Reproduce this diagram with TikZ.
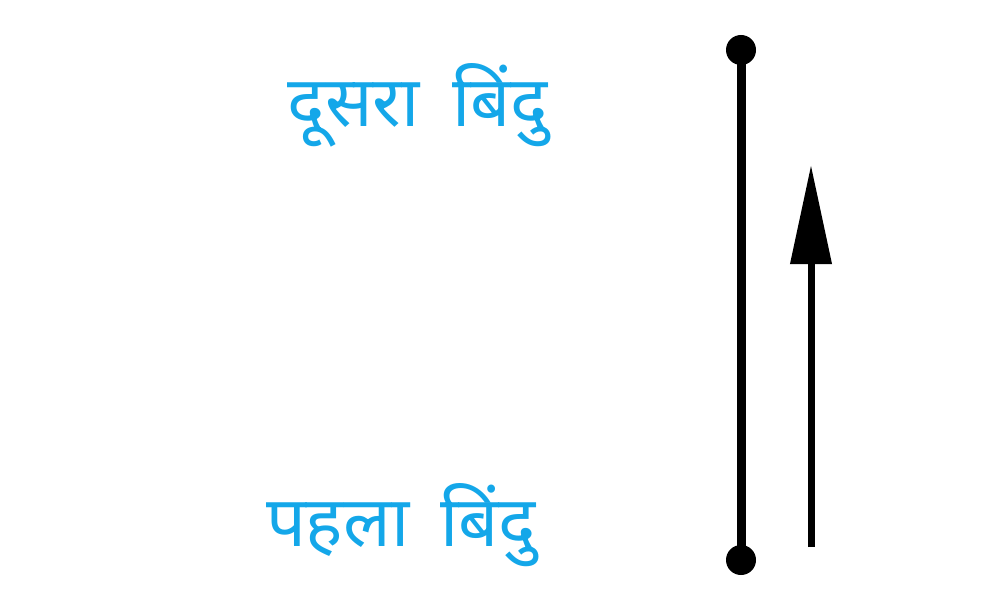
\documentclass[tikz,border=0pt]{standalone}
\usepackage{fontspec}
\newfontfamily\devfont[Script=Devanagari]{Noto Sans}
\usetikzlibrary{arrows.meta}
\definecolor{lblue}{RGB}{20,167,233}
\tikzset{
  lbl/.style={text=lblue, font=\devfont\fontsize{20}{24}\selectfont, inner sep=0pt},
  dotnode/.style={circle, fill=black, minimum size=0.3cm, inner sep=0pt},
  seg/.style={line width=0.09cm, black},
  vec/.style={line width=0.07cm, black, -{Triangle[length=0.99cm, width=0.40cm]}}
}
\begin{document}
\begin{tikzpicture}[x=0.01cm, y=-0.01cm]
\useasboundingbox (0,0) rectangle (1000,600);
\node[lbl] (t2) at (418,105) {दूसरा\hspace{0.33cm}बिंदु};
\node[lbl] (t1) at (401,525) {पहला\hspace{0.31cm}बिंदु};
\node[dotnode] (top) at (741,50) {};
\node[dotnode] (bot) at (741,560) {};
\draw[seg] (bot.center) -- (top.center);
\coordinate (a0) at (811,547);
\coordinate (a1) at (811,165);
\draw[vec] (a0) -- (a1);
\end{tikzpicture}
\end{document}
